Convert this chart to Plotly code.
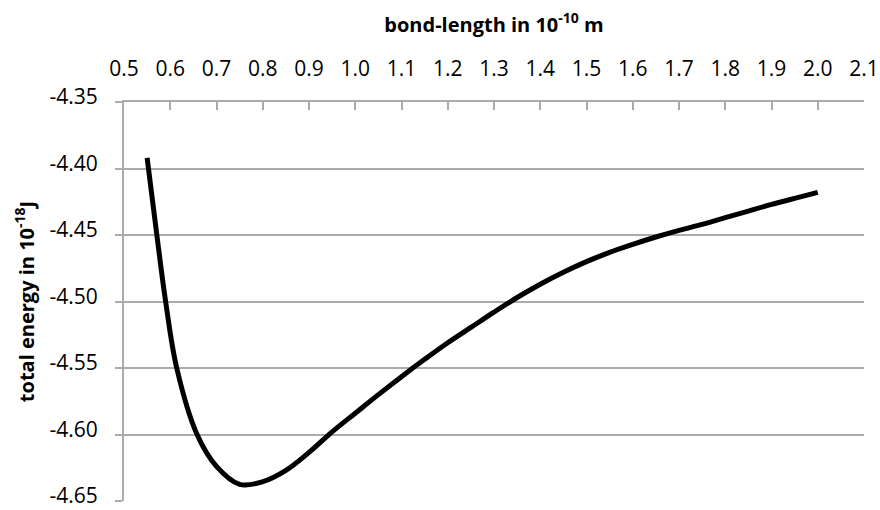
import plotly.graph_objects as go

bond_length = [0.55, 0.571, 0.590, 0.614, 0.658, 0.70, 0.75, 0.80, 0.85, 0.90, 0.95,
               1.00, 1.05, 1.10, 1.15, 1.20, 1.25, 1.30, 1.35, 1.40, 1.45, 1.50,
               1.55, 1.60, 1.65, 1.70, 1.75, 1.80, 1.85, 1.90, 1.95, 2.00]
total_energy = [-4.392, -4.450, -4.500, -4.550, -4.600, -4.624, -4.6375, -4.6355, -4.627, -4.6135, -4.598,
                -4.584, -4.570, -4.5565, -4.5435, -4.531, -4.5195, -4.508, -4.497, -4.487, -4.478, -4.470,
                -4.463, -4.457, -4.4515, -4.4465, -4.442, -4.437, -4.432, -4.427, -4.4225, -4.418]

x_ticks = [0.5, 0.6, 0.7, 0.8, 0.9, 1.0, 1.1, 1.2, 1.3, 1.4, 1.5, 1.6, 1.7, 1.8, 1.9, 2.0, 2.1]
x_tick_labels = ["0.5", "0.6", "0.7", "0.8", "0.9", "1.0", "1.1", "1.2", "1.3", "1.4", "1.5",
                 "1.6", "1.7", "1.8", "1.9", "2.0", "2.1"]
y_ticks = [-4.65, -4.60, -4.55, -4.50, -4.45, -4.40, -4.35]
y_tick_labels = ["-4.65", "-4.60", "-4.55", "-4.50", "-4.45", "-4.40", "-4.35"]

GRID = "#ABABAB"
FONT = "Open Sans"

fig = go.Figure()
fig.add_trace(go.Scatter(
    x=bond_length, y=total_energy, mode="lines",
    line=dict(color="black", width=5, shape="spline", smoothing=1.0),
    showlegend=False, hoverinfo="skip",
))

fig.update_layout(
    width=880, height=510,
    margin=dict(l=124, r=16, t=102, b=9),
    paper_bgcolor="white", plot_bgcolor="white",
    font=dict(family=FONT, color="black", size=21),
    xaxis=dict(
        side="top", range=[0.5, 2.1], automargin=False,
        tickvals=x_ticks, ticktext=x_tick_labels,
        ticks="inside", ticklen=8, tickwidth=2, tickcolor=GRID,
        showline=True, linecolor=GRID, linewidth=2,
        showgrid=False, zeroline=False,
        ticklabelstandoff=16, ticklabeloverflow="allow",
        tickfont=dict(family=FONT, size=21, color="black"),
        title=dict(text="<b>bond-length in 10<sup>-10</sup> m</b>",
                   font=dict(family=FONT, size=20, color="black"), standoff=16),
    ),
    yaxis=dict(
        range=[-4.65, -4.35], automargin=False,
        tickvals=y_ticks, ticktext=y_tick_labels,
        ticks="outside", ticklen=7, tickwidth=2, tickcolor=GRID,
        showline=True, linecolor=GRID, linewidth=2,
        showgrid=True, gridcolor=GRID, gridwidth=2, zeroline=False,
        ticklabelstandoff=13, ticklabeloverflow="allow", ticklabelshift=-5,
        tickfont=dict(family=FONT, size=21, color="black"),
        title=dict(text="<b>total energy in 10<sup>-18</sup>J</b>",
                   font=dict(family=FONT, size=20, color="black"), standoff=10),
    ),
)

# remove the page's default body margin so the 880x510 figure fills the window exactly
fig.write_html(
    "out.html",
    config={"displayModeBar": False},
    post_script="document.body.style.margin='0';document.body.style.overflow='hidden';",
)
